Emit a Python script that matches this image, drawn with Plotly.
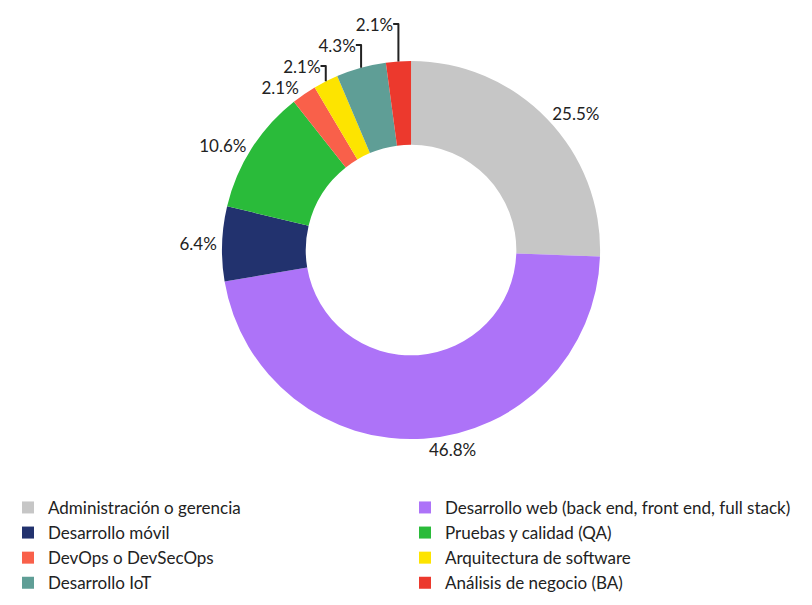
import plotly.graph_objects as go

labels = [
    "Administración o gerencia",
    "Desarrollo web (back end, front end, full stack)",
    "Desarrollo móvil",
    "Pruebas y calidad (QA)",
    "DevOps o DevSecOps",
    "Arquitectura de software",
    "Desarrollo IoT",
    "Análisis de negocio (BA)",
]
values = [12, 22, 3, 5, 1, 1, 2, 1]
colors = ["#c6c6c6", "#ad73f8", "#22326e", "#2abb3a", "#f9604a", "#fde400", "#5f9e96", "#ec392d"]

fig = go.Figure(go.Pie(
    labels=labels,
    values=values,
    marker=dict(colors=colors, line=dict(width=0)),
    hole=0.557,
    sort=False,
    direction="clockwise",
    rotation=0,
    textposition="outside",
    texttemplate="%{percent:.1%}",
    textfont=dict(size=17, color="#222222"),
    domain=dict(x=[0.2525, 0.7402], y=[0.315, 1.0]),
))

fig.update_layout(
    width=812, height=605,
    margin=dict(l=0, r=0, t=0, b=0),
    paper_bgcolor="white",
    font=dict(family="Lato, 'Noto Sans', sans-serif", color="#222222"),
    showlegend=True,
    legend=dict(
        orientation="h",
        x=0, y=0.223, xanchor="left", yanchor="top",
        entrywidth=352, entrywidthmode="pixels",
        font=dict(size=17, color="#222222"),
        traceorder="normal",
    ),
)

fig.write_html("out.html")
